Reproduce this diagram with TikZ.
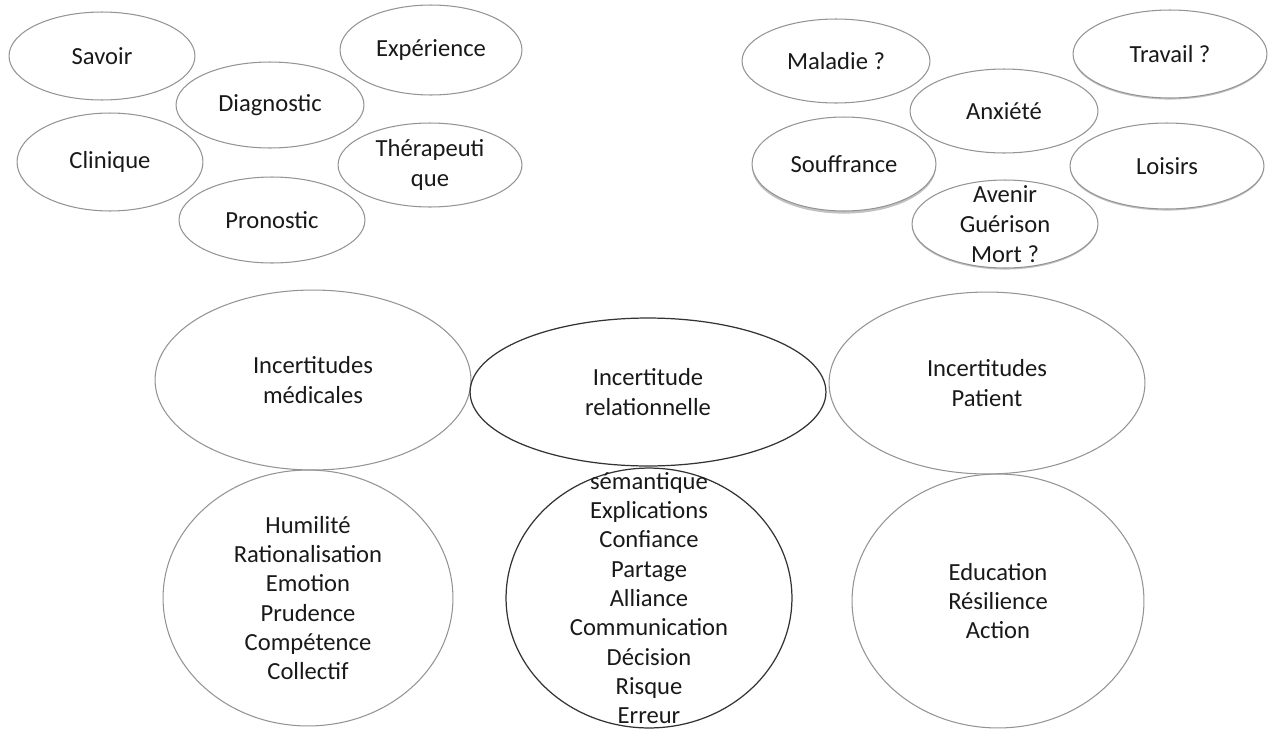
\documentclass[tikz,border=0pt]{standalone}
\usepackage{fontspec}
\setmainfont{Carlito}
\usetikzlibrary{shapes.geometric,shadows}
\begin{document}
\begin{tikzpicture}[x=0.02cm,y=-0.02cm,
  el/.style 2 args={ellipse, draw=black!42, line width=0.6pt,
    minimum width=#1*0.04cm, minimum height=#2*0.04cm, inner sep=0pt},
  dark/.style={draw=black!80, line width=0.7pt},
  shd/.style={fill=white, drop shadow={shadow xshift=0pt, shadow yshift=-#1, fill=black!40, opacity=0.6}},
  txt/.style={align=center, font=\fontsize{14}{17}\selectfont, inner sep=0pt, text=black!90},
  txtb/.style={align=center, font=\fontsize{14}{16.7}\selectfont, inner sep=0pt, text=black!90},
]
\useasboundingbox (0,0) rectangle (1274,734);

% top-left cluster
\node[el={93}{44}, label={[txt]center:Savoir}] (savoir) at (102,56) {};
\node[el={91}{45}, label={[txt]center:Expérience}] (experience) at (431,50) {};
\node[el={94}{43}, label={[txt]center:Diagnostic}] (diagnostic) at (270,105) {};
\node[el={93}{49}, label={[txt]center:Clinique}] (clinique) at (110,162) {};
\node[el={92}{42}, label={[txt]center:{Thérapeuti\\que}}] (therapeutique) at (430,165) {};
\node[el={93}{43}, label={[txt]center:Pronostic}] (pronostic) at (272,220) {};

% top-right cluster
\node[el={94}{42}, label={[txt]center:{Maladie ?}}] (maladie) at (836,61) {};
\node[el={97}{44}, shd=0.9pt, label={[txt]center:{Travail ?}}] (travail) at (1170,54) {};
\node[el={94}{42}, label={[txt]center:Anxiété}] (anxiete) at (1004,111) {};
\node[el={92}{47}, shd=1.5pt, label={[txt]center:Souffrance}] (souffrance) at (844,164) {};
\node[el={97}{43}, shd=0.9pt, label={[txt]center:Loisirs}] (loisirs) at (1167,166) {};
\node[el={93}{44}, shd=0.9pt, label={[txt]center:{Avenir\\Guérison\\Mort ?}}] (avenir) at (1005,224) {};

% middle row
\node[el={158}{90}, label={[txt]center:{Incertitudes\\médicales}}] (medicales) at (313,380) {};
\node[el={178}{74}, dark, label={[txt]center:{Incertitude\\relationnelle}}] (relationnelle) at (648,392) {};
\node[el={158}{91}, label={[txt]center:{Incertitudes\\Patient}}] (patient) at (987,383) {};

% bottom row
\node[el={145}{128}, label={[txtb]center:{Humilité\\Rationalisation\\Emotion\\Prudence\\Compétence\\Collectif}}] (humilite) at (308,598) {};
\node[el={143}{130}, dark, label={[txtb]center:{sémantique\\Explications\\Confiance\\Partage\\Alliance\\Communication\\Décision\\Risque\\Erreur}}] (semantique) at (649,598) {};
\node[el={146}{127}, label={[txtb]center:{Education\\Résilience\\Action}}] (education) at (998,601) {};
\end{tikzpicture}
\end{document}
